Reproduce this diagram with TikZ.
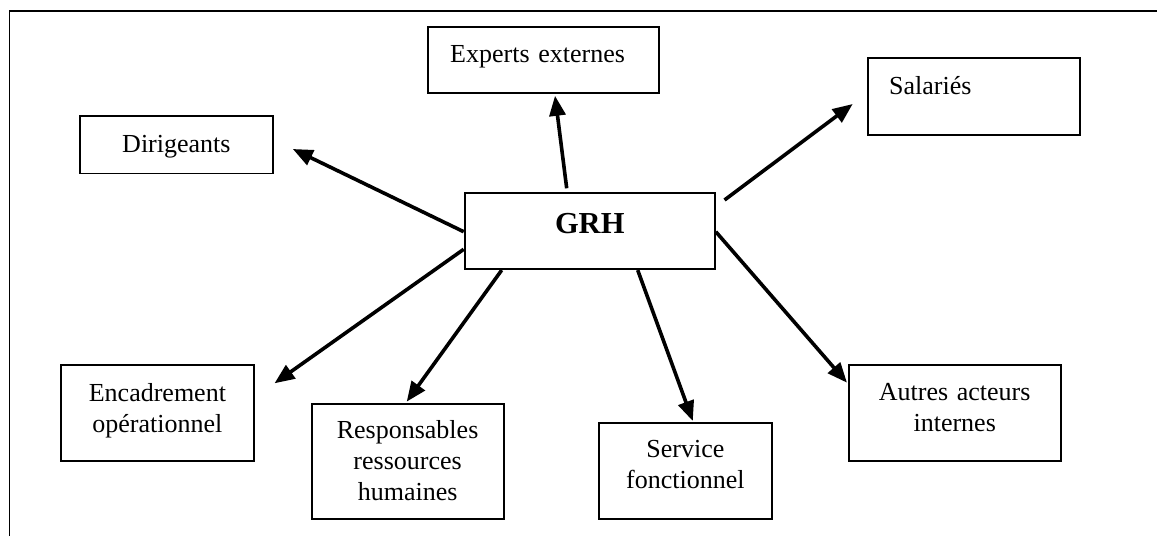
\documentclass[tikz,border=0pt]{standalone}
\usepackage{fontspec}
\setmainfont{Liberation Serif}
\usetikzlibrary{arrows.meta,calc}
\begin{document}
\begin{tikzpicture}[x=1pt,y=-1pt,
  box/.style={draw, line width=1.8pt, inner sep=0pt, anchor=north west, align=center,
              font=\fontsize{26}{31}\selectfont},
  leftbox/.style={box, align=left},
  conn/.style={line width=3.6pt, -{Triangle[length=20pt,width=16pt]}},
  frameline/.style={line width=1.6pt}]
\useasboundingbox (0,0) rectangle (1157,536);

% frame (only top and left edges are visible)
\draw[frameline] (9.3,536) -- (9.3,10.7) -- (1157,10.7);

% boxes
\node[box, text width=250.3pt, text height=41pt, text depth=35.6pt,
      font=\bfseries\fontsize{30.5}{36}\selectfont] (grh) at (463.7,191.7) {GRH};
\node[leftbox, inner xsep=22pt, text width=187pt, text height=36pt, text depth=30.6pt]
      (exp) at (427.3,25.7) {Experts externes};
\node[box, text width=193pt, text height=36.7pt, text depth=20.8pt]
      (dir) at (79,115) {Dirigeants};
\node[leftbox, inner xsep=21.6pt, text width=169.1pt, text height=36pt, text depth=41pt]
      (sal) at (866.7,57.3) {Salariés};
\node[box, text width=193pt, text height=36.2pt, text depth=59.8pt]
      (enc) at (60,364.3) {Encadrement\\opérationnel};
\node[box, text width=192pt, text height=35pt, text depth=80.6pt]
      (res) at (310.7,402.7) {Responsables\\ressources\\humaines};
\node[box, text width=173pt, text height=35.3pt, text depth=61.3pt]
      (ser) at (598,421.7) {Service\\fonctionnel};
\node[box, text width=212pt, text height=35.7pt, text depth=60.3pt]
      (aut) at (847.8,364.3) {Autres acteurs\\internes};

% connectors
\draw[conn] ($(grh.north west)+(0,40)$) -- ($(dir.north east)+(19,34)$);
\draw[conn] ($(grh.north west)+(103,-3.4)$) -- ($(exp.south west)+(127.7,1.7)$);
\draw[conn] ($(grh.north east)+(8.7,8.3)$) -- ($(sal.north west)+(-14,46.7)$);
\draw[conn] ($(grh.north west)+(0,57.6)$) -- ($(enc.north east)+(19.7,19)$);
\draw[conn] ($(grh.south west)+(38,0)$) -- ($(res.north west)+(96,-1)$);
\draw[conn] ($(grh.south west)+(174,0)$) -- ($(ser.north west)+(94.8,-0.7)$);
\draw[conn] ($(grh.north east)+(0,40)$) -- ($(aut.north west)+(-0.8,18.4)$);
\end{tikzpicture}
\end{document}
